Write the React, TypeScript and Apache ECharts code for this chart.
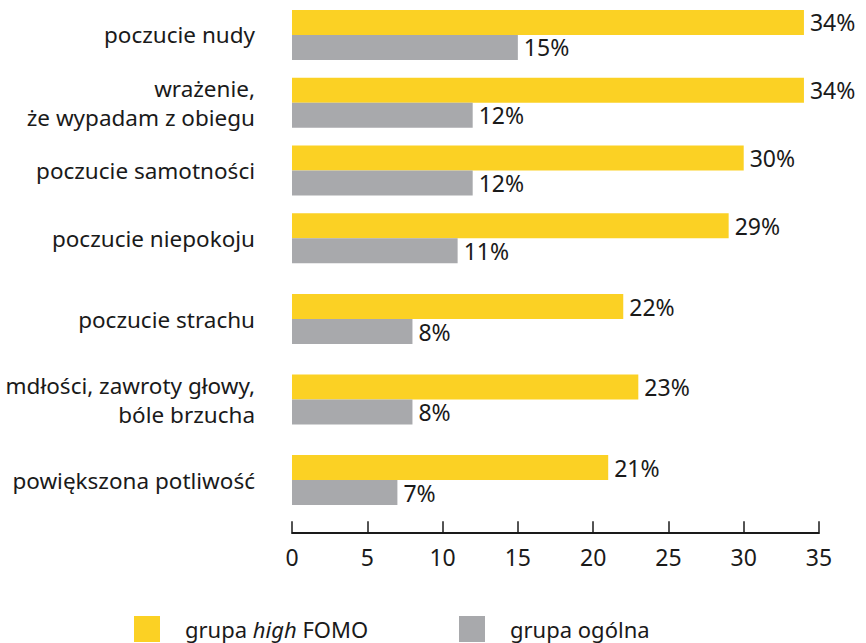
import React, { useEffect, useRef } from "react";
import * as echarts from "echarts";

const categories = [
  "poczucie nudy",
  "wrażenie,\nże wypadam z obiegu",
  "poczucie samotności",
  "poczucie niepokoju",
  "poczucie strachu",
  "mdłości, zawroty głowy,\nbóle brzucha",
  "powiększona potliwość",
];
const highFomo = [34, 34, 30, 29, 22, 23, 21];
const general = [15, 12, 12, 11, 8, 8, 7];
const xTicks = [0, 5, 10, 15, 20, 25, 30, 35];

const SERIES_HIGH = "grupa high FOMO";
const SERIES_GEN = "grupa ogólna";

const FONT = "Noto Sans";
const TEXT = "#1a1a1a";
const YELLOW = "#FBD124";
const GRAY = "#A8A9AC";

export default function App() {
  const ref = useRef<HTMLDivElement>(null);
  useEffect(() => {
    if (!ref.current) return;
    const chart = echarts.init(ref.current, null, { renderer: "svg" });
    const split = 4;
    const groups = [
      { cats: categories.slice(0, split), hi: highFomo.slice(0, split), ge: general.slice(0, split) },
      { cats: categories.slice(split), hi: highFomo.slice(split), ge: general.slice(split) },
    ];
    const labelStyle = {
      show: true,
      position: "right",
      distance: 6,
      formatter: "{c}%",
      color: TEXT,
      fontFamily: FONT,
      fontSize: 23,
    };
    const series: any[] = [];
    groups.forEach((g, i) => {
      series.push({
        type: "bar",
        name: SERIES_HIGH,
        xAxisIndex: i,
        yAxisIndex: i,
        data: g.hi,
        barWidth: 25,
        barGap: "0%",
        itemStyle: { color: YELLOW },
        label: labelStyle,
      });
      series.push({
        type: "bar",
        name: SERIES_GEN,
        xAxisIndex: i,
        yAxisIndex: i,
        data: g.ge,
        barWidth: 25,
        barGap: "0%",
        itemStyle: { color: GRAY },
        label: labelStyle,
      });
    });
    const legendText = {
      fontFamily: FONT,
      fontSize: 22,
      color: TEXT,
      rich: {
        a: { fontFamily: FONT, fontSize: 22, color: TEXT },
        i: { fontFamily: FONT, fontSize: 22, color: TEXT, fontStyle: "italic" },
      },
    };
    const legendFormatter = (name: string) =>
      name === SERIES_HIGH ? "{a|grupa }{i|high}{a| FOMO}" : "{a|" + name + "}";
    const xAxisBase = {
      type: "value",
      min: xTicks[0],
      max: xTicks[xTicks.length - 1],
      interval: xTicks[1] - xTicks[0],
      splitLine: { show: false },
    };
    const yAxisBase = {
      type: "category",
      inverse: true,
      axisLine: { show: false },
      axisTick: { show: false },
      axisLabel: {
        interval: 0,
        margin: 37,
        color: TEXT,
        fontFamily: FONT,
        fontSize: 22.5,
        lineHeight: 29,
        align: "right",
      },
    };
    const legendBase = {
      top: 616,
      itemWidth: 26,
      itemHeight: 26,
      itemGap: 0,
      padding: 0,
      icon: "rect",
      selectedMode: false,
      formatter: legendFormatter,
      textStyle: { ...legendText, padding: [0, 0, 0, 20] },
    };
    const gridBase = { left: 292, right: 47, outerBoundsMode: "none", containLabel: false };
    chart.setOption({
      animation: false,
      backgroundColor: "#ffffff",
      grid: [
        { ...gridBase, top: 1, height: 271 },
        { ...gridBase, top: 278.75, height: 241.5 },
      ],
      xAxis: [
        { ...xAxisBase, gridIndex: 0, show: false },
        {
          ...xAxisBase,
          gridIndex: 1,
          offset: 12,
          axisLine: { show: true, lineStyle: { color: "#1a1a1a", width: 2 } },
          axisTick: { show: true, inside: true, length: 11, lineStyle: { color: "#1a1a1a", width: 1.5 } },
          axisLabel: { margin: 13, color: TEXT, fontFamily: FONT, fontSize: 23 },
        },
      ],
      yAxis: [
        { ...yAxisBase, gridIndex: 0, data: groups[0].cats },
        { ...yAxisBase, gridIndex: 1, data: groups[1].cats },
      ],
      legend: [
        { ...legendBase, data: [SERIES_HIGH], left: 134 },
        { ...legendBase, data: [SERIES_GEN], left: 459 },
      ],
      series,
    });
    return () => chart.dispose();
  }, []);
  return (
    <div
      ref={ref}
      style={{ position: "fixed", left: 0, top: 0, width: 866, height: 643, background: "#fff" }}
    />
  );
}
